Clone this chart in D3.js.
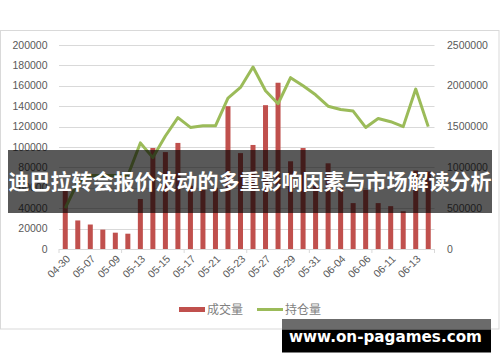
<!DOCTYPE html>
<html><head><meta charset="utf-8">
<script src="https://cdn.jsdelivr.net/npm/d3@7"></script>
<style>body{margin:0;background:#fff}svg{display:block}</style>
</head><body>
<svg id="c" width="500" height="362"></svg>
<script>
const dates = ["04-30","05-06","05-07","05-08","05-09","05-10","05-13","05-14","05-15","05-16","05-17","05-20","05-21","05-22","05-23","05-24","05-27","05-28","05-29","05-30","05-31","06-03","06-04","06-05","06-06","06-07","06-11","06-12","06-13","06-14"];
const volume = [58000,28000,24000,19000,16000,15000,49000,99000,95000,104000,62000,58000,60000,140000,94000,102000,141000,163000,86000,99000,62000,84000,60000,45000,58000,45000,42000,37000,77000,76000];
const openInterest = [500000,820000,900000,900000,900000,900000,1300000,1120000,1385000,1610000,1490000,1510000,1510000,1850000,1980000,2230000,1940000,1780000,2100000,2000000,1890000,1750000,1710000,1690000,1490000,1600000,1560000,1500000,1960000,1500000];
const leftTicks = [0,20000,40000,60000,80000,100000,120000,140000,160000,180000,200000];
const rightTicks = [0,500000,1000000,1500000,2000000,2500000];
const seriesNames = ["成交量","持仓量"];
const title = "迪巴拉转会报价波动的多重影响因素与市场解读分析";
const watermark = "www.on-pagames.com";

const svg = d3.select("#c");
const L = 59, R = 434.5, T = 45, B = 249;
const x = d3.scaleBand().domain(dates).range([L, R]).padding(0);
const yL = d3.scaleLinear().domain([0, 200000]).range([B, T]);
const yR = d3.scaleLinear().domain([0, 2500000]).range([B, T]);
const txt = "#595959";
const font = "'Liberation Sans', Arial, sans-serif";

// frame
svg.append("rect").attr("x",0.5).attr("y",30.5).attr("width",498.5).attr("height",298.5)
  .attr("fill","#fff").attr("stroke","#d9d9d9");

// grid
svg.append("g").selectAll("line").data(leftTicks).join("line")
  .attr("x1",L).attr("x2",R).attr("y1",d=>Math.round(yL(d))+0.5).attr("y2",d=>Math.round(yL(d))+0.5)
  .attr("stroke","#d9d9d9").attr("stroke-width",1);

// left axis labels
svg.append("g").selectAll("text").data(leftTicks).join("text")
  .attr("x",47.5).attr("y",d=>yL(d)).attr("dy","0.35em").attr("text-anchor","end")
  .attr("font-family",font).attr("font-size",10.5).attr("fill",txt).text(d=>d);
// right axis labels
svg.append("g").selectAll("text").data(rightTicks).join("text")
  .attr("x",447).attr("y",d=>yR(d)).attr("dy","0.35em").attr("text-anchor","start")
  .attr("font-family",font).attr("font-size",10.5).attr("fill",txt).text(d=>d);

// bars
const bw = x.bandwidth()*0.4;
svg.append("g").selectAll("rect").data(volume).join("rect")
  .attr("x",(d,i)=>x(dates[i])+x.bandwidth()/2-bw/2).attr("width",bw)
  .attr("y",d=>yL(d)).attr("height",d=>B-yL(d)).attr("fill","#c0504d");

// x axis line + ticks
svg.append("line").attr("x1",L).attr("x2",R).attr("y1",B+0.5).attr("y2",B+0.5).attr("stroke","#d9d9d9");
const tickPos = dates.filter((d,i)=>i%5===0).map(d=>x(d)).concat([R]);
svg.append("g").selectAll("line").data(tickPos).join("line")
  .attr("x1",d=>d).attr("x2",d=>d).attr("y1",B).attr("y2",B+4).attr("stroke","#d9d9d9");

// x labels
svg.append("g").selectAll("text").data(dates.filter((d,i)=>i%2===0)).join("text")
  .attr("transform",d=>`translate(${x(d)+x.bandwidth()/2+3},${B+8}) rotate(-45)`)
  .attr("text-anchor","end").attr("dy","0.35em")
  .attr("font-family",font).attr("font-size",10.5).attr("fill",txt).text(d=>d);

// line
const line = d3.line().x((d,i)=>x(dates[i])+x.bandwidth()/2).y(d=>yR(d));
svg.append("path").datum(openInterest).attr("d",line).attr("fill","none")
  .attr("stroke","#9bbb59").attr("stroke-width",3).attr("stroke-linejoin","round");

// legend
const lg = svg.append("g");
lg.append("rect").attr("x",179).attr("y",307).attr("width",26).attr("height",5).attr("fill","#c0504d");
lg.append("text").attr("x",207).attr("y",309.5).attr("dy","0.35em").attr("font-family","'Noto Sans CJK SC'")
  .attr("font-size",12).attr("fill","#7f7f7f").text(seriesNames[0]);
lg.append("line").attr("x1",257).attr("x2",283).attr("y1",309.5).attr("y2",309.5).attr("stroke","#9bbb59").attr("stroke-width",3);
lg.append("text").attr("x",285).attr("y",309.5).attr("dy","0.35em").attr("font-family","'Noto Sans CJK SC'")
  .attr("font-size",12).attr("fill","#7f7f7f").text(seriesNames[1]);

// title band
svg.append("rect").attr("x",8).attr("y",150).attr("width",484).attr("height",63).attr("fill","rgba(0,0,0,0.65)");
svg.append("text").attr("x",250).attr("y",182).attr("dy","0.35em").attr("text-anchor","middle")
  .attr("font-family","'Noto Sans CJK SC'").attr("font-weight","bold").attr("font-size",21)
  .attr("fill","#fff").text(title);

// watermark
svg.append("rect").attr("x",282).attr("y",319).attr("width",209).attr("height",10.5).attr("fill","#6b6b6b");
svg.append("rect").attr("x",282).attr("y",329.5).attr("width",209).attr("height",23).attr("fill","#000");
svg.append("text").attr("x",385.5).attr("y",337).attr("dy","0.35em").attr("text-anchor","middle")
  .attr("font-family","'DejaVu Sans'").attr("font-weight","bold").attr("font-size",15.2)
  .attr("fill","#fff").text(watermark);
</script>
</body></html>
